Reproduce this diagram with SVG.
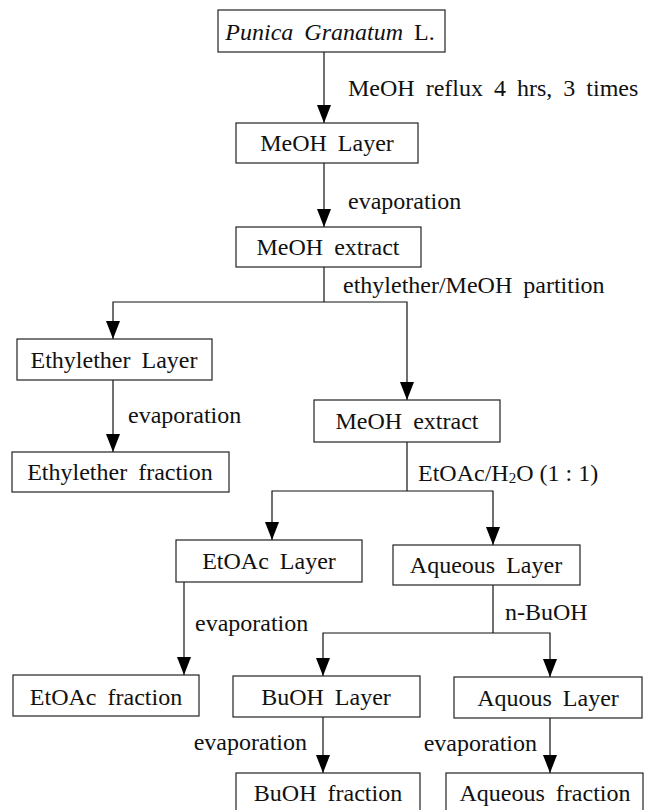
<svg xmlns="http://www.w3.org/2000/svg" width="650" height="810" viewBox="0 0 650 810">
<style>
  .box rect { fill: #fff; stroke: #222; stroke-width: 1.2; }
  text { font-family: "Liberation Serif", "Times New Roman", serif; font-size: 24px; fill: #111; word-spacing: 5px; }
  .c { text-anchor: middle; }
  .e { text-anchor: end; }
  .conn path { fill: none; stroke: #111; stroke-width: 1.2; }
</style>
<defs>
  <marker id="ah" markerUnits="userSpaceOnUse" markerWidth="19" markerHeight="15" refX="18" refY="7" orient="auto">
    <path d="M0,0 L18,7 L0,14 z" fill="#000"/>
  </marker>
</defs>
<rect width="650" height="810" fill="#fff"/>

<g class="conn" id="connectors">
  <path d="M324,52 V123" marker-end="url(#ah)"/>
  <path d="M324,163 V227" marker-end="url(#ah)"/>
  <path d="M324,267 V302"/>
  <path d="M324,302 H113 V339" marker-end="url(#ah)"/>
  <path d="M324,302 H407 V400" marker-end="url(#ah)"/>
  <path d="M113,380 V452" marker-end="url(#ah)"/>
  <path d="M407,442 V491"/>
  <path d="M407,491 H272 V540" marker-end="url(#ah)"/>
  <path d="M407,491 H493 V545" marker-end="url(#ah)"/>
  <path d="M184,582 V675" marker-end="url(#ah)"/>
  <path d="M493,585 V633"/>
  <path d="M493,633 H323 V676" marker-end="url(#ah)"/>
  <path d="M493,633 H550 V677" marker-end="url(#ah)"/>
  <path d="M323,717 V773" marker-end="url(#ah)"/>
  <path d="M550,718 V773" marker-end="url(#ah)"/>
</g>

<g id="labels">
  <text x="348" y="96">MeOH reflux 4 hrs, 3 times</text>
  <text x="348" y="209">evaporation</text>
  <text x="343" y="293">ethylether/MeOH partition</text>
  <text x="128" y="423">evaporation</text>
  <text x="418" y="481" style="word-spacing:0">EtOAc/H<tspan font-size="15" dy="2">2</tspan><tspan dy="-2">O (1 : 1)</tspan></text>
  <text x="195" y="631">evaporation</text>
  <text x="505" y="620">n-BuOH</text>
  <text class="e" x="307" y="750">evaporation</text>
  <text class="e" x="537" y="751">evaporation</text>
</g>

<g class="box" id="n-punica">
  <rect x="218" y="10" width="227" height="42"/>
  <text class="c" x="330" y="40"><tspan font-style="italic">Punica Granatum</tspan> L.</text>
</g>
<g class="box" id="n-meoh-layer">
  <rect x="236" y="123" width="182" height="40"/>
  <text class="c" x="327" y="151">MeOH Layer</text>
</g>
<g class="box" id="n-meoh-extract1">
  <rect x="236" y="227" width="185" height="40"/>
  <text class="c" x="328" y="255">MeOH extract</text>
</g>
<g class="box" id="n-ethyl-layer">
  <rect x="17" y="339" width="195" height="41"/>
  <text class="c" x="114" y="368">Ethylether Layer</text>
</g>
<g class="box" id="n-ethyl-fraction">
  <rect x="12" y="452" width="217" height="40"/>
  <text class="c" x="120" y="480">Ethylether fraction</text>
</g>
<g class="box" id="n-meoh-extract2">
  <rect x="314" y="400" width="186" height="42"/>
  <text class="c" x="407" y="429">MeOH extract</text>
</g>
<g class="box" id="n-etoac-layer">
  <rect x="176" y="540" width="186" height="42"/>
  <text class="c" x="269" y="569">EtOAc Layer</text>
</g>
<g class="box" id="n-aqueous-layer">
  <rect x="393" y="545" width="187" height="40"/>
  <text class="c" x="486" y="573">Aqueous Layer</text>
</g>
<g class="box" id="n-etoac-fraction">
  <rect x="13" y="675" width="186" height="41"/>
  <text class="c" x="106" y="705">EtOAc fraction</text>
</g>
<g class="box" id="n-buoh-layer">
  <rect x="233" y="676" width="187" height="41"/>
  <text class="c" x="326" y="705">BuOH Layer</text>
</g>
<g class="box" id="n-aquous-layer">
  <rect x="454" y="677" width="188" height="41"/>
  <text class="c" x="548" y="706">Aquous Layer</text>
</g>
<g class="box" id="n-buoh-fraction">
  <rect x="236" y="773" width="184" height="45"/>
  <text class="c" x="328" y="801">BuOH fraction</text>
</g>
<g class="box" id="n-aqueous-fraction">
  <rect x="446" y="773" width="197" height="45"/>
  <text class="c" x="545" y="801">Aqueous fraction</text>
</g>
</svg>
